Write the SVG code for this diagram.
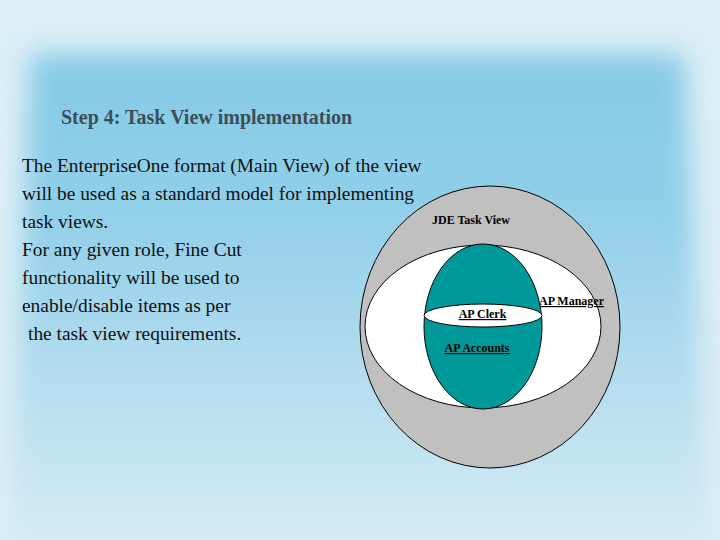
<svg xmlns="http://www.w3.org/2000/svg" width="720" height="540" viewBox="0 0 720 540">
<defs>
<linearGradient id="body" x1="0" y1="0" x2="0" y2="1">
<stop offset="0" stop-color="#86cae6"/>
<stop offset="0.3" stop-color="#90cfe8"/>
<stop offset="0.6" stop-color="#b2dbee"/>
<stop offset="1" stop-color="#dbeef6"/>
</linearGradient>
<filter id="soft" x="-10%" y="-10%" width="120%" height="120%">
<feGaussianBlur stdDeviation="13"/>
</filter>
<style>
.body{font-family:"Liberation Serif","DejaVu Serif",serif;font-size:19.4px;fill:#111}
.title{font-family:"Liberation Serif","DejaVu Serif",serif;font-size:20px;font-weight:bold;fill:#3d4f56}
.lbl{font-family:"Liberation Serif","DejaVu Serif",serif;font-size:12px;font-weight:bold;fill:#000}
.u{text-decoration:underline}
.shape{stroke:#000;stroke-width:1}
</style>
</defs>
<rect x="0" y="0" width="720" height="540" fill="#dceef6"/>
<polygon points="30,54 684,54 712,570 8,570" fill="url(#body)" filter="url(#soft)"/>

<g id="title"><text class="title" x="61" y="124">Step 4: Task View implementation</text></g>
<g id="body-text">
<text class="body" x="22" y="172">The EnterpriseOne format (Main View) of the view</text>
<text class="body" x="22" y="200">will be used as a standard model for implementing</text>
<text class="body" x="22" y="228">task views.</text>
<text class="body" x="22" y="256">For any given role, Fine Cut</text>
<text class="body" x="22" y="284">functionality will be used to</text>
<text class="body" x="22" y="312">enable/disable items as per</text>
<text class="body" x="28" y="340">the task view requirements.</text>
</g>

<g id="jde-task-view">
<ellipse class="shape" cx="490" cy="327" rx="130" ry="141" fill="#c0c0c0"/>
<text class="lbl" x="471" y="224" text-anchor="middle">JDE Task View</text>
</g>
<g id="ap-manager">
<ellipse class="shape" cx="483" cy="326.5" rx="118" ry="81.5" fill="#ffffff"/>
<text class="lbl u" x="539" y="305">AP Manager</text>
</g>
<g id="ap-accounts">
<ellipse class="shape" cx="483" cy="326.5" rx="59" ry="82.5" fill="#009999"/>
<text class="lbl u" x="477" y="352" text-anchor="middle">AP Accounts</text>
</g>
<g id="ap-clerk">
<ellipse class="shape" cx="483" cy="315.5" rx="59" ry="11.5" fill="#ffffff"/>
<text class="lbl u" x="482.5" y="318" text-anchor="middle">AP Clerk</text>
</g>
<g id="connectors"></g>
</svg>
